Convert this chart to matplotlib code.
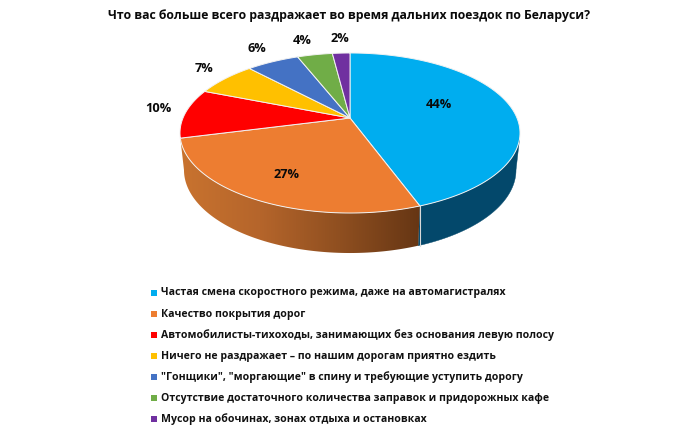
import numpy as np
import matplotlib
matplotlib.use("Agg")
import matplotlib.pyplot as plt
from matplotlib.colors import LinearSegmentedColormap
from matplotlib.patches import Polygon

plt.rcParams['font.family'] = ['Open Sans', 'DejaVu Sans']

title = "Что вас больше всего раздражает во время дальних поездок по Беларуси?"
categories = [
    "Частая смена скоростного режима, даже на автомагистралях",
    "Качество покрытия дорог",
    "Автомобилисты-тихоходы, занимающих без основания левую полосу",
    "Ничего не раздражает – по нашим дорогам приятно ездить",
    "\"Гонщики\", \"моргающие\" в спину и требующие уступить дорогу",
    "Отсутствие достаточного количества заправок и придорожных кафе",
    "Мусор на обочинах, зонах отдыха и остановках",
]
values = [44.4, 26.6, 10, 7, 6, 4, 2]
colors = ["#00adef", "#ed7d31", "#ff0000", "#ffc000", "#4472c4", "#70ad47", "#7030a0"]
label_pos = [(439, 105), (287, 174), (158, 109), (204, 69), (257, 48), (302, 40), (340, 39)]

# apex of the pie on screen and perspective of the tilted disc
cx, cy = 350, 118
k = 0.1875
a = 77.2
b = 167


def project(theta):
    # theta clockwise from the top, circle point -> screen point
    u, v = np.sin(theta), np.cos(theta)
    w = 1 + k * v
    return cx + b * u / w, cy - a * v / w


def lower(theta):
    # bottom rim is a bit narrower and lies lower than the top one
    x, y = project(theta)
    return cx + (x - cx) * 166 / 170, 170 + (y - 133) * 83 / 80


fig = plt.figure(figsize=(7, 4.32), dpi=100)
ax = fig.add_axes([0, 0, 1, 1])

edges = 2 * np.pi * np.cumsum([0] + values) / sum(values)
right_top = np.radians(105)
right_low = np.radians(100.8)
left_low = np.radians(259.2)

# blue wall
th_top = np.linspace(right_top, edges[1], 80)
th_low = np.linspace(right_low, edges[1], 80)
tx, ty = project(th_top)
lx, ly = lower(th_low)
pts = list(zip(tx, ty)) + list(zip(lx[::-1], ly[::-1]))
ax.add_patch(Polygon(pts, closed=True, fc="#03486b", ec="#03486b", lw=0.3, zorder=1))

# orange wall with its gradient
th_top = np.linspace(edges[1], edges[2], 120)
th_low = np.linspace(edges[1], left_low, 120)
tx, ty = project(th_top)
lx, ly = lower(th_low)
pts = list(zip(tx, ty)) + list(zip(lx[::-1], ly[::-1]))
clip = Polygon(pts, closed=True, fc='none', ec='none', zorder=1)
ax.add_patch(clip)
cmap = LinearSegmentedColormap.from_list("wall", ["#c9732f", "#b5652b", "#8f4f20", "#663614"])
img = ax.imshow(np.linspace(0, 1, 256).reshape(1, -1), cmap=cmap, aspect='auto',
                extent=(180, 420, 260, 130), zorder=1)
img.set_clip_path(clip)

# seam between the walls
sx, sy = project(edges[1])
ax.plot([sx, sx], [sy, lower(edges[1])[1]], color="#d8d8d8", lw=0.8, zorder=2)

# top of the pie
for i in range(len(values)):
    th = np.linspace(edges[i], edges[i + 1], 100)
    xs, ys = project(th)
    pts = [(cx, cy)] + list(zip(xs, ys))
    ax.add_patch(Polygon(pts, closed=True, fc=colors[i], ec="#f2f2f2", lw=0.7, zorder=3))

for val, (lx, ly) in zip(values, label_pos):
    ax.text(lx, ly, f"{val:.0f}%", ha='center', va='center', fontsize=9.2,
            fontweight='bold', color="#0a0a0a", zorder=4)

ax.text(349.5, 15, title, ha='center', va='center', fontsize=8.8, fontweight='bold', color="#0a0a0a")

# legend
leg_y = 293
for i, cat in enumerate(categories):
    y = leg_y + i * 21
    ax.scatter([154], [y], marker='s', s=14, color=colors[i], linewidths=0)
    ax.text(161, y, cat, ha='left', va='center', fontsize=7.6, fontweight='bold', color="#111111")

ax.set_xlim(0, 700)
ax.set_ylim(432, 0)
ax.axis('off')

fig.savefig("out.png", dpi=100)
